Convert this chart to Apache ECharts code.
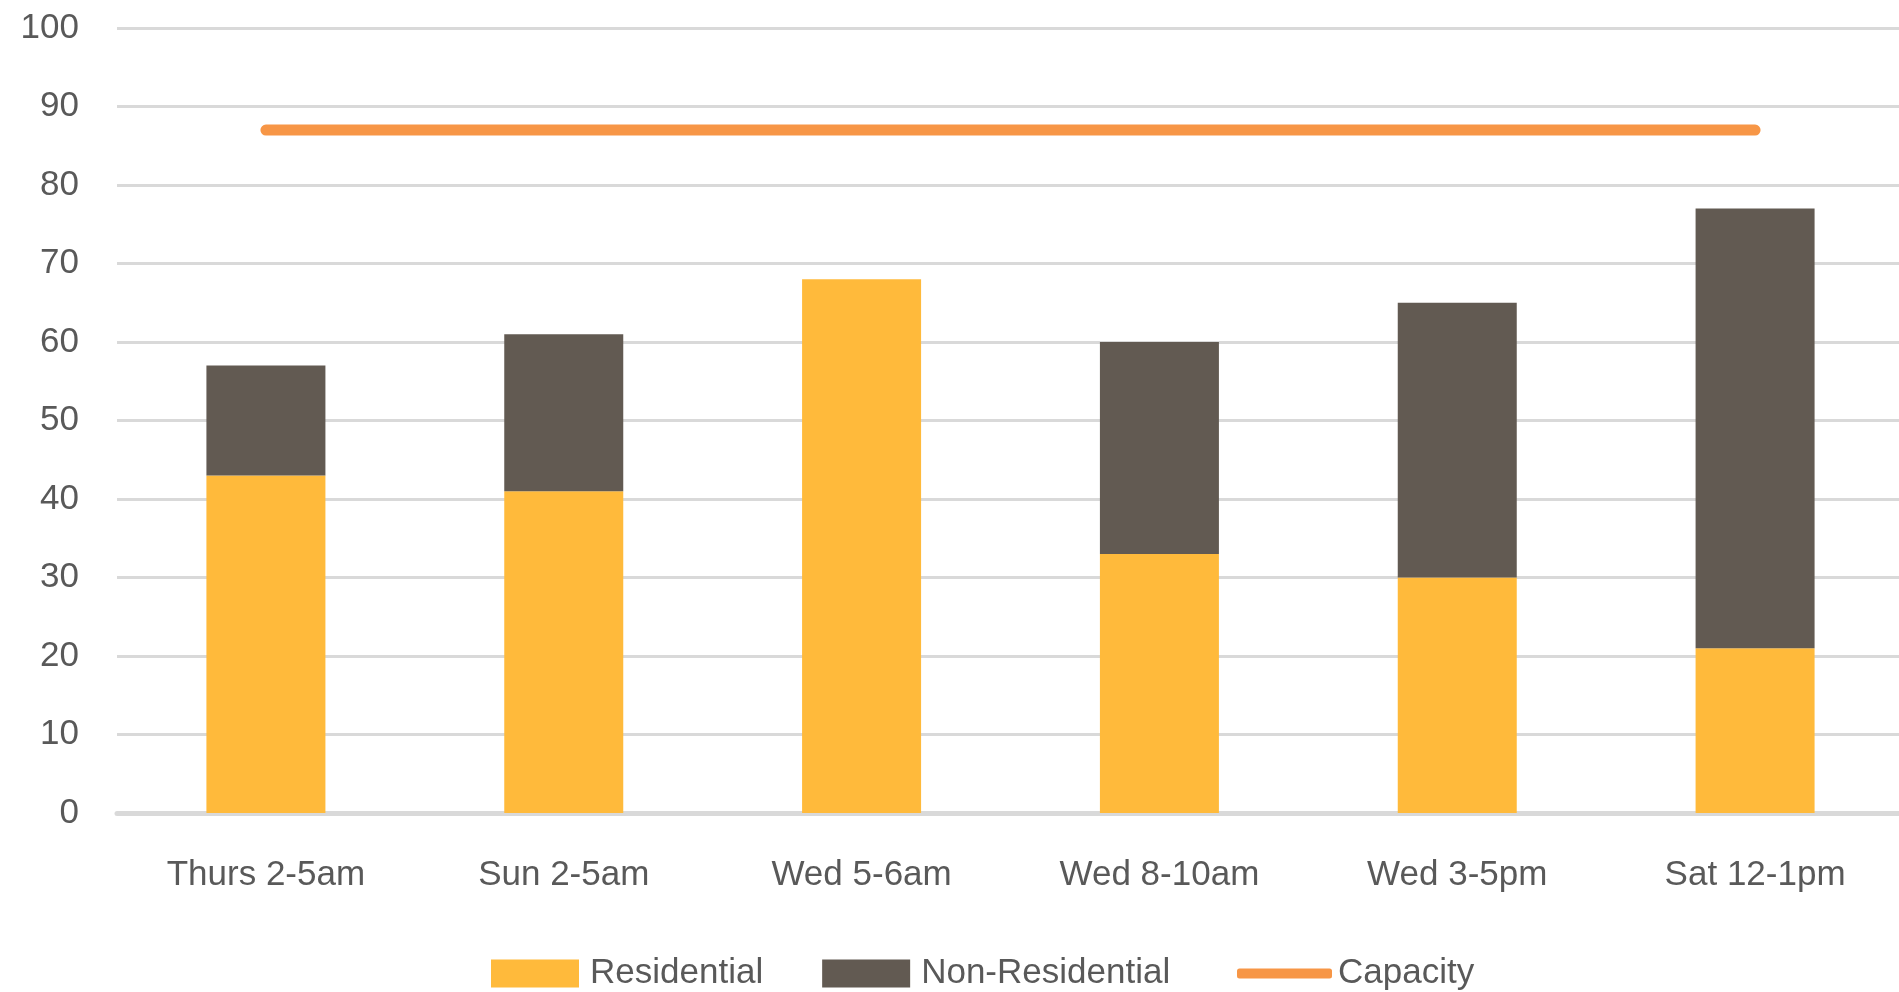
<!DOCTYPE html>
<html>
<head>
<meta charset="utf-8">
<title>Parking occupancy</title>
<script src="https://cdn.jsdelivr.net/npm/echarts@6/dist/echarts.min.js"></script>
<style>
  html, body { margin: 0; padding: 0; background: #fff; overflow: hidden; }
  /* a touch wider than the window: gridlines run off the right edge like the original */
  #main { width: 1904px; height: 992px; }
</style>
</head>
<body>
<div id="main"></div>
<script>
// data
var categories = ['Thurs 2-5am', 'Sun 2-5am', 'Wed 5-6am', 'Wed 8-10am', 'Wed 3-5pm', 'Sat 12-1pm'];
var residential = [43, 41, 68, 33, 30, 21];
var nonResidential = [14, 20, 0, 27, 35, 56];
var capacity = [87, 87, 87, 87, 87, 87];
var yTicks = [0, 100, 10]; // min, max, interval

var FONT = "'Liberation Sans', Arial, sans-serif";
var TEXT = '#595959';
var FS = 35;

var option = {
    backgroundColor: '#fff',
    animation: false,
    grid: {
        left: 117,
        right: 0,
        top: 28,
        bottom: 179
    },
    legend: [{
        data: ['Residential', 'Non-Residential'],
        left: 486,
        top: 951,
        itemWidth: 88,
        itemHeight: 28,
        itemGap: 59,
        icon: 'rect',
        textStyle: { color: TEXT, fontSize: FS, fontFamily: FONT, padding: [0, 0, 0, 6] }
    }, {
        data: ['Capacity'],
        left: 1232,
        top: 951,
        itemWidth: 95,
        itemHeight: 10,
        icon: 'roundRect',
        textStyle: { color: TEXT, fontSize: FS, fontFamily: FONT, padding: [0, 0, 0, 1] }
    }],
    xAxis: {
        type: 'category',
        data: categories,
        axisLine: { lineStyle: { color: '#D9D9D9', width: 5 } },
        axisTick: { show: false },
        axisLabel: { color: TEXT, fontSize: FS, fontFamily: FONT, margin: 45, interval: 0 }
    },
    yAxis: {
        type: 'value',
        min: yTicks[0],
        max: yTicks[1],
        interval: yTicks[2],
        axisLine: { show: false },
        axisTick: { show: false },
        axisLabel: { color: TEXT, fontSize: FS, fontFamily: FONT, margin: 38 },
        splitLine: { lineStyle: { color: '#D9D9D9', width: 3 } }
    },
    series: [{
        name: 'Residential',
        type: 'bar',
        stack: 'total',
        barWidth: 119,
        itemStyle: { color: '#FFBA3B' },
        data: residential
    }, {
        name: 'Non-Residential',
        type: 'bar',
        stack: 'total',
        barWidth: 119,
        itemStyle: { color: '#625A52' },
        data: nonResidential
    }, {
        name: 'Capacity',
        type: 'line',
        symbol: 'none',
        itemStyle: { color: '#F79646' },
        lineStyle: { color: '#F79646', width: 11, cap: 'round' },
        data: capacity
    }]
};

var myChart = echarts.init(document.getElementById('main'));
myChart.setOption(option);
</script>
</body>
</html>
